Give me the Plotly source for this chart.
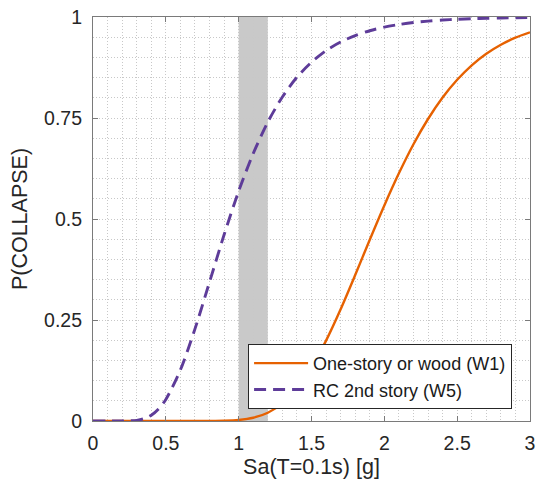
import plotly.graph_objects as go

# Sa(T=0.1s) [g]
sa_w1 = [0.0, 0.1, 0.2, 0.3, 0.4, 0.5, 0.6, 0.7, 0.8, 0.9, 1.0, 1.1, 1.2, 1.3, 1.4, 1.5,
         1.6, 1.7, 1.8, 1.9, 2.0, 2.1, 2.2, 2.3, 2.4, 2.5, 2.6, 2.7, 2.8, 2.9, 3.0]
p_w1 = [0.0, 0.0, 0.0, 0.0, 0.0, 0.0, 0.0, 0.0, 0.0001, 0.0006, 0.0025, 0.008, 0.0205, 0.0436,
        0.0805, 0.1326, 0.199, 0.2766, 0.3614, 0.4487, 0.5335, 0.613, 0.685, 0.7475, 0.8007,
        0.8447, 0.8805, 0.909, 0.9314, 0.9487, 0.962]

sa_w5 = [0.0, 0.1, 0.2, 0.25, 0.3, 0.35, 0.4, 0.45, 0.5, 0.6, 0.7, 0.8, 0.9, 1.0, 1.1, 1.2,
         1.3, 1.4, 1.5, 1.6, 1.7, 1.8, 1.9, 2.0, 2.1, 2.2, 2.3, 2.4, 2.5, 2.6, 2.7, 2.8, 2.9, 3.0]
p_w5 = [0.0, 0.0, 0.0, 0.0003, 0.0017, 0.0057, 0.0143, 0.0297, 0.0533, 0.1265, 0.228, 0.344,
        0.461, 0.569, 0.662, 0.740, 0.802, 0.851, 0.888, 0.917, 0.938, 0.954, 0.966, 0.975,
        0.9815, 0.9863, 0.9898, 0.9925, 0.9944, 0.9958, 0.9969, 0.9977, 0.9982, 0.9987]

band = [1.0, 1.2]

x_ticks = [0, 0.5, 1, 1.5, 2, 2.5, 3]
x_labels = ["0", "0.5", "1", "1.5", "2", "2.5", "3"]
y_ticks = [0, 0.25, 0.5, 0.75, 1]
y_labels = ["0", "0.25", "0.5", "0.75", "1"]

names = ["One-story or wood (W1)", "RC 2nd story (W5)"]

FONT = "Liberation Sans, Arial, Helvetica, sans-serif"
TXT = "#262626"
AX = "#7a7a7a"
GRID = "#c8c8c8"
GDASH = "1px,2px"

fig = go.Figure()
fig.add_trace(go.Scatter(x=sa_w1, y=p_w1, mode="lines", name=names[0],
                         line=dict(color="#e66101", width=2.4, shape="spline", smoothing=0.8)))
fig.add_trace(go.Scatter(x=sa_w5, y=p_w5, mode="lines", name=names[1],
                         line=dict(color="#5e3c99", width=2.9, dash="12px,7px",
                                   shape="spline", smoothing=0.8)))

fig.add_shape(type="rect", xref="x", yref="y", x0=band[0], x1=band[1], y0=0, y1=1,
              fillcolor="#c9c9c9", line=dict(width=0), layer="below")

axis_common = dict(
    showline=True, linecolor=AX, linewidth=1.2, mirror="ticks",
    ticks="inside", ticklen=5, tickcolor=AX, tickwidth=1,
    showgrid=True, gridcolor=GRID, griddash=GDASH, gridwidth=1,
    zeroline=False, ticklabeloverflow="allow", automargin=False,
    tickfont=dict(family=FONT, size=19.5, color=TXT),
)

fig.update_xaxes(range=[0, 3], tickvals=x_ticks, ticktext=x_labels,
                 minor=dict(dtick=0.1, showgrid=True, gridcolor=GRID, griddash=GDASH, ticks=""),
                 title=dict(text="Sa(T=0.1s) [g]", font=dict(family=FONT, size=21.5, color=TXT),
                            standoff=6),
                 ticklabelstandoff=4,
                 **axis_common)
fig.update_yaxes(range=[0, 1], tickvals=y_ticks, ticktext=y_labels,
                 minor=dict(dtick=0.05, showgrid=True, gridcolor=GRID, griddash=GDASH, ticks=""),
                 title=dict(text="P(COLLAPSE)", font=dict(family=FONT, size=21.5, color=TXT),
                            standoff=10),
                 ticklabelstandoff=6,
                 **axis_common)

fig.update_layout(
    width=538, height=485,
    margin=dict(l=93, r=8, t=17, b=64, autoexpand=False),
    paper_bgcolor="white", plot_bgcolor="white",
    font=dict(family=FONT, color=TXT),
    legend=dict(x=0.959, y=0.030, xanchor="right", yanchor="bottom",
                bgcolor="white", bordercolor="#262626", borderwidth=1,
                font=dict(family=FONT, size=18, color="#1a1a1a"),
                itemwidth=54, tracegroupgap=0),
    showlegend=True,
)

# remove the default page margin so the figure sits at the window's top-left corner
fig.write_html("out.html",
               config={"displayModeBar": False},
               post_script="document.body.style.margin='0';document.body.style.overflow='hidden';")
